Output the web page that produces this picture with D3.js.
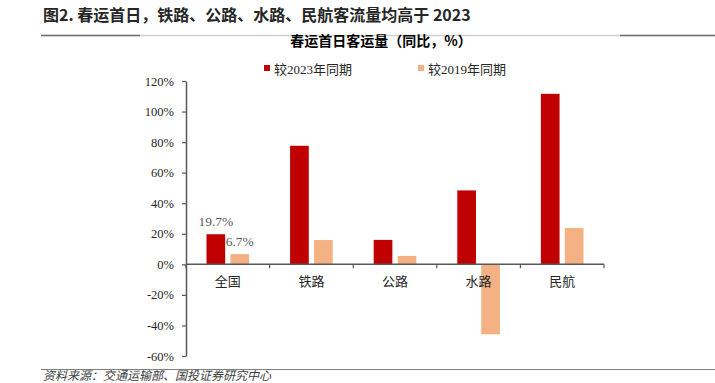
<!DOCTYPE html>
<html lang="zh">
<head>
<meta charset="UTF-8">
<title>春运首日客运量</title>
<style>
body { margin: 0; background: #fff; }
</style>
</head>
<body>
<script src="https://cdn.jsdelivr.net/npm/d3@7"></script>
<script>
var categories = ['全国', '铁路', '公路', '水路', '民航'];
var vs2023 = [19.7, 77.6, 16.0, 48.4, 111.6];
var vs2019 = [6.7, 15.9, 5.5, -45.8, 23.8];
var seriesNames = ['较2023年同期', '较2019年同期'];
var yTicks = [-60, -40, -20, 0, 20, 40, 60, 80, 100, 120];

var colors = ['#C00000', '#F4B183'];
var serif = '"Liberation Serif", "Times New Roman", "Noto Sans CJK SC", serif';
var cjk = '"Noto Sans CJK SC", "Noto Sans", sans-serif';

var svg = d3.select('body').append('svg')
    .attr('width', 715)
    .attr('height', 383);

// header
svg.append('text')
    .attr('x', 43).attr('y', 21)
    .attr('font-family', cjk)
    .attr('font-weight', 'bold')
    .attr('font-size', '16px')
    .attr('fill', '#262626')
    .text('图2. 春运首日，铁路、公路、水路、民航客流量均高于 2023');

svg.append('line')
    .attr('x1', 41).attr('x2', 715).attr('y1', 35.5).attr('y2', 35.5)
    .attr('stroke', '#d0d0d0').attr('stroke-width', 1.5);
svg.append('line')
    .attr('x1', 41).attr('x2', 140).attr('y1', 35.5).attr('y2', 35.5)
    .attr('stroke', '#6e6e6e').attr('stroke-width', 1.5);
svg.append('line')
    .attr('x1', 620).attr('x2', 715).attr('y1', 35.5).attr('y2', 35.5)
    .attr('stroke', '#6e6e6e').attr('stroke-width', 1.5);

svg.append('text')
    .attr('x', 381).attr('y', 46)
    .attr('text-anchor', 'middle')
    .attr('font-family', cjk)
    .attr('font-weight', 'bold')
    .attr('font-size', '14px')
    .attr('fill', '#000')
    .text('春运首日客运量（同比，%）');

// legend
var legendX = [264, 418];
seriesNames.forEach(function(name, i) {
    svg.append('rect')
        .attr('x', legendX[i]).attr('y', 65)
        .attr('width', 6).attr('height', 6)
        .attr('fill', colors[i]);
    svg.append('text')
        .attr('x', legendX[i] + 10).attr('y', 73.5)
        .attr('font-family', serif)
        .attr('font-size', '13px')
        .attr('fill', '#262626')
        .text(name);
});

// scales
var x = d3.scaleBand()
    .domain(categories)
    .range([186, 604])
    .paddingInner(0.49)
    .paddingOuter(0.245);

var xInner = d3.scaleBand()
    .domain([0, 1])
    .range([0, x.bandwidth()])
    .paddingInner(0.22);

var y = d3.scaleLinear()
    .domain([-60, 120])
    .range([356, 81]);

// bars
var rows = categories.map(function(c, i) {
    return { cat: c, vals: [vs2023[i], vs2019[i]] };
});

var groups = svg.selectAll('g.grp')
    .data(rows)
    .enter()
    .append('g')
    .attr('class', 'grp')
    .attr('transform', function(d) { return 'translate(' + x(d.cat) + ',0)'; });

groups.selectAll('rect')
    .data(function(d) { return d.vals; })
    .enter()
    .append('rect')
    .attr('x', function(d, i) { return xInner(i); })
    .attr('width', xInner.bandwidth())
    .attr('y', function(d) { return y(Math.max(0, d)); })
    .attr('height', function(d) { return Math.abs(y(d) - y(0)); })
    .attr('fill', function(d, i) { return colors[i]; });

// value labels (first category only)
[vs2023[0], vs2019[0]].forEach(function(v, i) {
    svg.append('text')
        .attr('x', x(categories[0]) + xInner(i) + xInner.bandwidth() / 2)
        .attr('y', y(v) - 8.5)
        .attr('text-anchor', 'middle')
        .attr('font-family', serif)
        .attr('font-size', '13.5px')
        .attr('fill', '#595959')
        .text(v.toFixed(1) + '%');
});

// y axis
var yAxis = svg.append('g')
    .attr('transform', 'translate(186,0)')
    .call(d3.axisLeft(y)
        .tickValues(yTicks)
        .tickSize(4)
        .tickSizeOuter(0)
        .tickPadding(8)
        .tickFormat(function(d) { return d + '%'; }));
yAxis.select('.domain').attr('stroke', '#595959').attr('stroke-width', 1.5);
yAxis.selectAll('.tick line').attr('stroke', '#595959').attr('stroke-width', 1.2);
yAxis.selectAll('.tick text')
    .attr('font-family', serif)
    .attr('font-size', '12.5px')
    .attr('fill', '#262626');

// x axis at zero
var step = x.step();
var xAxis = svg.append('g');
xAxis.append('line')
    .attr('x1', 186).attr('x2', 604)
    .attr('y1', y(0)).attr('y2', y(0))
    .attr('stroke', '#595959').attr('stroke-width', 1.5);
xAxis.selectAll('line.tk')
    .data(d3.range(categories.length + 1))
    .enter()
    .append('line')
    .attr('class', 'tk')
    .attr('x1', function(i) { return 186 + i * step; })
    .attr('x2', function(i) { return 186 + i * step; })
    .attr('y1', y(0)).attr('y2', y(0) + 4)
    .attr('stroke', '#595959').attr('stroke-width', 1.2);
xAxis.selectAll('text')
    .data(categories)
    .enter()
    .append('text')
    .attr('x', function(d) { return x(d) + x.bandwidth() / 2; })
    .attr('y', y(0) + 22)
    .attr('text-anchor', 'middle')
    .attr('font-family', cjk)
    .attr('font-size', '13px')
    .attr('fill', '#262626')
    .text(function(d) { return d; });

// footer
svg.append('line')
    .attr('x1', 41).attr('x2', 715).attr('y1', 369.5).attr('y2', 369.5)
    .attr('stroke', '#808080').attr('stroke-width', 1.2);
svg.append('text')
    .attr('x', 43).attr('y', 380)
    .attr('font-family', cjk)
    .attr('font-style', 'italic')
    .attr('font-size', '12px')
    .attr('fill', '#404040')
    .text('资料来源：交通运输部、国投证券研究中心');
</script>
</body>
</html>
